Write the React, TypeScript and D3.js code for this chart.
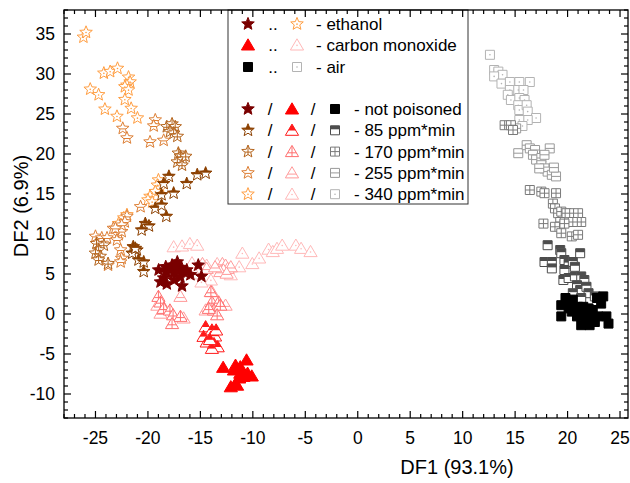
import React from "react";
import * as d3 from "d3";

const ethanolNP: [number, number][] = [[-18.98,5.5],[-18.3,5.9],[-17.7,6.1],[-17.2,6.5],[-16.8,5.8],[-16.6,5.3],[-17.55,5.1],[-18.2,5.2],[-18.8,4.0],[-18.2,3.75],[-17.5,4.25],[-16.75,3.5],[-15.95,4.9],[-15.2,6.1],[-14.9,4.7],[-17.1,5.3],[-17.9,5.6],[-18.5,4.5],[-16.3,5.5],[-17.4,6.0],[-16.9,4.6]];
const ethanol85: [number, number][] = [[-15.3,17.4],[-14.5,17.6],[-16.3,16.3],[-18.0,17.2],[-18.5,16.3],[-17.55,15.1],[-18.7,14.9],[-19.3,13.2],[-18.7,13.6],[-18.25,12.2],[-20.25,11.3],[-19.9,11.0],[-20.6,10.5],[-21.4,8.4],[-21.05,8.0],[-21.5,7.6],[-20.9,6.75],[-20.4,6.5],[-20.4,5.3],[-21.2,8.2]];
const ethanol170: [number, number][] = [[-18.2,23.4],[-17.7,23.75],[-17.4,23.4],[-17.9,22.8],[-17.55,22.6],[-17.2,22.2],[-17.1,20.1],[-16.9,19.7],[-17.2,19.0],[-16.65,19.3],[-16.75,18.6],[-16.4,19.7],[-24.9,8.8],[-24.2,8.6],[-24.7,8.0],[-25.0,7.6],[-24.55,7.2],[-24.7,6.75],[-23.8,6.3]];
const ethanol255: [number, number][] = [[-19.3,24.25],[-19.45,23.5],[-19.8,21.5],[-18.5,21.7],[-22.4,23.2],[-22.0,22.0],[-25.0,9.7],[-24.4,9.5],[-23.9,9.5],[-23.3,10.7],[-22.8,9.9],[-22.95,9.25],[-22.5,10.3],[-22.6,8.0],[-22.5,6.95],[-22.6,6.5],[-23.8,6.1],[-20.7,13.4],[-22.0,12.2],[-22.2,11.5],[-22.5,11.1],[-23.1,10.7]];
const ethanol340: [number, number][] = [[-26.15,34.6],[-25.9,35.2],[-24.2,30.1],[-23.6,30.3],[-22.9,30.7],[-21.85,29.6],[-21.7,29.0],[-22.0,28.6],[-22.2,28.4],[-21.85,28.0],[-25.5,28.1],[-24.7,27.4],[-22.2,26.8],[-24.1,25.6],[-22.95,24.7],[-21.6,25.7],[-21.0,24.5],[-19.0,16.75],[-19.1,16.1],[-18.8,15.7],[-19.3,15.3],[-19.8,14.7],[-20.0,14.25],[-19.6,14.0],[-22.8,11.3],[-22.3,12.0],[-22.0,12.4]];

const coNP: [number, number][] = [[-12.83,-6.67],[-11.65,-6.4],[-11.2,-6.6],[-10.6,-5.75],[-11.8,-7.0],[-11.2,-7.4],[-10.5,-7.4],[-10.1,-7.75],[-11.3,-8.0],[-11.65,-8.7],[-12.1,-9.1],[-11.5,-8.9],[-10.9,-7.8]];
const co85: [number, number][] = [[-14.5,-1.6],[-13.9,-2.0],[-14.7,-2.8],[-14.0,-2.9],[-13.6,-2.75],[-14.4,-3.5],[-13.7,-3.7],[-13.35,-4.1],[-13.9,-4.3],[-13.5,-2.0],[-14.1,-3.2]];
const co170: [number, number][] = [[-19.0,2.2],[-18.8,1.5],[-18.5,0.7],[-17.9,0.5],[-17.6,-0.1],[-16.9,-0.3],[-17.7,-1.2],[-14.0,2.8],[-13.9,1.5],[-13.25,1.5],[-13.7,0.5],[-13.1,1.1],[-13.4,-0.1],[-14.2,0.7]];
const co255: [number, number][] = [[-19.1,1.1],[-18.8,0.1],[-16.9,2.2],[-16.6,-0.5],[-14.5,0.5],[-12.6,1.1],[-12.9,6.3],[-12.6,6.1],[-12.4,5.7],[-12.8,5.5],[-12.1,5.9],[-13.1,5.3],[-12.5,5.1],[-14.8,6.3],[-14.4,5.7],[-13.6,5.9],[-13.9,2.8]];
const co340: [number, number][] = [[-17.55,8.4],[-16.75,8.5],[-16.0,8.8],[-15.3,8.6],[-15.8,6.4],[-11.0,7.6],[-10.05,6.3],[-9.4,7.0],[-8.5,8.1],[-8.1,7.8],[-7.7,8.2],[-7.2,8.6],[-5.9,8.6],[-5.4,8.2],[-4.5,7.8],[-11.3,5.9],[-12.1,4.9],[-14.0,4.25],[-14.4,6.1],[-13.4,6.3],[-15.5,5.0],[-14.9,4.0]];

const airNP: [number, number][] = [[23.4,2.2],[23.2,1.3],[19.4,1.1],[20.2,1.3],[21.0,0.9],[21.5,0.9],[22.0,0.7],[22.4,0.5],[19.4,-0.3],[20.4,0.3],[20.9,-0.3],[21.3,0.1],[21.8,-0.8],[22.3,-0.5],[22.9,-0.3],[23.7,-0.3],[23.9,-1.2],[21.3,-1.4],[22.1,-1.4],[22.6,-1.0],[20.1,0.7],[20.7,0.5],[21.6,0.3],[19.8,2.0],[22.8,2.0],[20.5,1.8]];
const air85: [number, number][] = [[18.1,8.6],[19.3,8.0],[19.4,7.6],[21.2,7.6],[17.8,6.5],[18.5,6.5],[18.5,5.7],[19.7,6.75],[20.1,6.3],[20.5,6.5],[20.7,5.9],[19.7,5.5],[19.6,4.25],[20.1,4.5],[20.7,4.7],[21.3,4.7],[21.6,4.25],[20.9,3.6],[21.2,3.0],[21.8,3.4],[22.0,2.6],[22.6,2.2],[20.5,2.6],[21.3,2.0]];
const air170: [number, number][] = [[16.4,15.5],[17.5,15.3],[17.8,15.1],[18.9,15.1],[18.6,13.8],[18.8,13.2],[19.1,12.6],[19.4,12.8],[19.9,12.6],[20.2,12.6],[21.0,12.6],[21.3,11.5],[20.5,11.5],[19.3,11.5],[19.7,11.3],[17.7,11.3],[18.8,10.9],[19.4,10.1],[20.4,9.7],[21.0,9.9],[14.0,23.6],[14.6,23.6],[14.8,23.0]];
const air255: [number, number][] = [[15.3,20.1],[16.1,21.1],[16.4,20.7],[16.9,20.5],[16.7,19.9],[17.0,19.3],[17.5,19.5],[17.5,18.6],[17.8,18.2],[18.1,17.8],[18.5,17.4],[18.9,17.2],[18.3,20.7],[17.8,19.9],[17.3,18.2],[15.1,23.2],[18.7,18.3]];
const air340: [number, number][] = [[12.6,32.4],[13.0,30.5],[13.4,30.3],[13.8,29.9],[13.0,29.7],[13.7,28.8],[14.5,29.0],[15.4,29.0],[16.4,29.0],[14.5,28.0],[15.3,28.0],[15.8,28.0],[14.3,27.4],[14.6,26.75],[15.4,27.0],[15.9,26.75],[15.3,26.1],[15.4,25.5],[16.1,26.1],[16.2,25.3],[17.0,24.5],[16.2,24.25],[15.4,24.25],[15.7,23.5]];

const xTicks = [-25, -20, -15, -10, -5, 0, 5, 10, 15, 20, 25];
const yTicks = [-10, -5, 0, 5, 10, 15, 20, 25, 30, 35];
const levelLabels = ["- not poisoned", "- 85 ppm*min", "- 170 ppm*min", "- 255 ppm*min", "- 340 ppm*min"];
const substanceLabels = ["- ethanol", "- carbon monoxide", "- air"];

const ethanolColors = ["#7a0000", "#8c4000", "#b5651d", "#dd7f35", "#ff9d40"];
const coColors = ["#ff0000", "#ff1a1a", "#ff6f6f", "#ff9a9a", "#ffb8b8"];
const airColors = ["#000000", "#4d4d4d", "#7a7a7a", "#999999", "#b3b3b3"];

type Shape = "star" | "tri" | "sq";

const starPath = (() => {
  const R = 6.6, r = 2.9;
  const pts: string[] = [];
  for (let i = 0; i < 10; i++) {
    const a = -Math.PI / 2 + (i * Math.PI) / 5;
    const rr = i % 2 === 0 ? R : r;
    pts.push(`${(rr * Math.cos(a)).toFixed(2)},${(rr * Math.sin(a)).toFixed(2)}`);
  }
  return "M" + pts.join("L") + "Z";
})();
const triPath = "M0,-6.2L6.6,5L-6.6,5Z";
const sqPath = "M-4.5,-4.5H4.5V4.5H-4.5Z";
const paths: Record<Shape, string> = { star: starPath, tri: triPath, sq: sqPath };
const midY: Record<Shape, number> = { star: 0.5, tri: 1.2, sq: 0 };

function Marker({ shape, level, color, cx, cy }: { shape: Shape; level: number; color: string; cx: number; cy: number }) {
  const d = paths[shape];
  const clip = `url(#clip-${shape})`;
  const m = midY[shape];
  return (
    <g transform={`translate(${cx},${cy})`}>
      <path d={d} fill={level === 0 ? color : "white"} stroke={color} strokeWidth={1} strokeLinejoin="miter" />
      {level === 1 && <rect x={-8} y={-8} width={16} height={8 + m - 1} fill={color} clipPath={clip} />}
      {level === 2 && (
        <g clipPath={clip} stroke={color} strokeWidth={1}>
          <line x1={-8} x2={8} y1={m} y2={m} />
          <line x1={0} x2={0} y1={-8} y2={8} />
        </g>
      )}
      {level === 3 && (
        <g clipPath={clip} stroke={color} strokeWidth={1}>
          <line x1={-8} x2={8} y1={m} y2={m} />
        </g>
      )}
      {level === 4 && <circle r={0.8} cx={0} cy={m * 0.3} fill={color} />}
    </g>
  );
}

export default function App() {
  const W = 630, H = 483;
  const left = 64, right = 628, top = 10, bottom = 418;
  const x = d3.scaleLinear().domain([-28, 25.76]).range([left, right]);
  const y = d3.scaleLinear().domain([-13, 38]).range([bottom, top]);
  const font = "'Liberation Sans', Arial, sans-serif";

  const xMinor = d3.range(-28, 26, 1).filter((v) => !xTicks.includes(v));
  const yMinor = d3.range(-13, 39, 1).filter((v) => !yTicks.includes(v));
  const maj = 7, mnr = 4;

  const groups: { shape: Shape; data: [number, number][][]; colors: string[] }[] = [
    { shape: "tri", data: [coNP, co85, co170, co255, co340], colors: coColors },
    { shape: "star", data: [ethanolNP, ethanol85, ethanol170, ethanol255, ethanol340], colors: ethanolColors },
    { shape: "sq", data: [airNP, air85, air170, air255, air340], colors: airColors },
  ];

  const legendRowY0 = [24, 45, 67];
  const legendRowY = [109, 130.3, 151.6, 172.9, 194.2];
  const shapesOrder: Shape[] = ["star", "tri", "sq"];
  const colorsOrder = [ethanolColors, coColors, airColors];
  const lf = 17;

  return (
    <svg width={W} height={H} style={{ display: "block", position: "absolute", left: 0, top: 0 }} fontFamily={font}>
      <defs>
        {(Object.keys(paths) as Shape[]).map((s) => (
          <clipPath id={`clip-${s}`} key={s}>
            <path d={paths[s]} />
          </clipPath>
        ))}
      </defs>
      <rect width={W} height={H} fill="white" />

      {groups.map((g, gi) => (
        <g key={gi}>
          {[4, 3, 2, 1, 0].map((lvl) =>
            g.data[lvl].map((p, i) => (
              <Marker key={`${lvl}-${i}`} shape={g.shape} level={lvl} color={g.colors[lvl]} cx={x(p[0])} cy={y(p[1])} />
            ))
          )}
        </g>
      ))}

      <g>
        <rect x={228} y={top} width={240} height={194} fill="white" stroke="#333" strokeWidth={1} />
        {substanceLabels.map((lab, i) => (
          <g key={lab}>
            <Marker shape={shapesOrder[i]} level={0} color={colorsOrder[i][0]} cx={248} cy={legendRowY0[i]} />
            <text x={273} y={legendRowY0[i] + 6} textAnchor="middle" fontSize={lf}>..</text>
            <Marker shape={shapesOrder[i]} level={4} color={colorsOrder[i][4]} cx={297} cy={legendRowY0[i]} />
            <text x={316} y={legendRowY0[i] + 6} fontSize={lf}>{lab}</text>
          </g>
        ))}
        {levelLabels.map((lab, i) => (
          <g key={lab}>
            <Marker shape="star" level={i} color={ethanolColors[i]} cx={248} cy={legendRowY[i]} />
            <text x={270} y={legendRowY[i] + 6} textAnchor="middle" fontSize={lf}>/</text>
            <Marker shape="tri" level={i} color={coColors[i]} cx={292} cy={legendRowY[i]} />
            <text x={313} y={legendRowY[i] + 6} textAnchor="middle" fontSize={lf}>/</text>
            <Marker shape="sq" level={i} color={airColors[i]} cx={335} cy={legendRowY[i]} />
            <text x={354} y={legendRowY[i] + 6} fontSize={lf}>{lab}</text>
          </g>
        ))}
      </g>

      <rect x={left} y={top} width={right - left} height={bottom - top} fill="none" stroke="black" strokeWidth={1.3} />
      <g stroke="black" strokeWidth={1.2}>
        {xTicks.map((v) => (
          <g key={`xt${v}`}>
            <line x1={x(v)} x2={x(v)} y1={bottom} y2={bottom - maj} />
            <line x1={x(v)} x2={x(v)} y1={top} y2={top + maj} />
          </g>
        ))}
        {xMinor.map((v) => (
          <g key={`xm${v}`}>
            <line x1={x(v)} x2={x(v)} y1={bottom} y2={bottom - mnr} />
            <line x1={x(v)} x2={x(v)} y1={top} y2={top + mnr} />
          </g>
        ))}
        {yTicks.map((v) => (
          <g key={`yt${v}`}>
            <line x1={left} x2={left + maj} y1={y(v)} y2={y(v)} />
            <line x1={right} x2={right - maj} y1={y(v)} y2={y(v)} />
          </g>
        ))}
        {yMinor.map((v) => (
          <g key={`ym${v}`}>
            <line x1={left} x2={left + mnr} y1={y(v)} y2={y(v)} />
            <line x1={right} x2={right - mnr} y1={y(v)} y2={y(v)} />
          </g>
        ))}
      </g>
      {xTicks.map((v) => (
        <text key={`xl${v}`} x={x(v)} y={444} textAnchor="middle" fontSize={17.5}>{v}</text>
      ))}
      {yTicks.map((v) => (
        <text key={`yl${v}`} x={55} y={y(v) + 6} textAnchor="end" fontSize={17.5}>{v}</text>
      ))}
      <text x={457} y={474} textAnchor="middle" fontSize={20}>DF1 (93.1%)</text>
      <text transform={`translate(28,206) rotate(-90)`} textAnchor="middle" fontSize={20}>DF2 (6.9%)</text>
    </svg>
  );
}
